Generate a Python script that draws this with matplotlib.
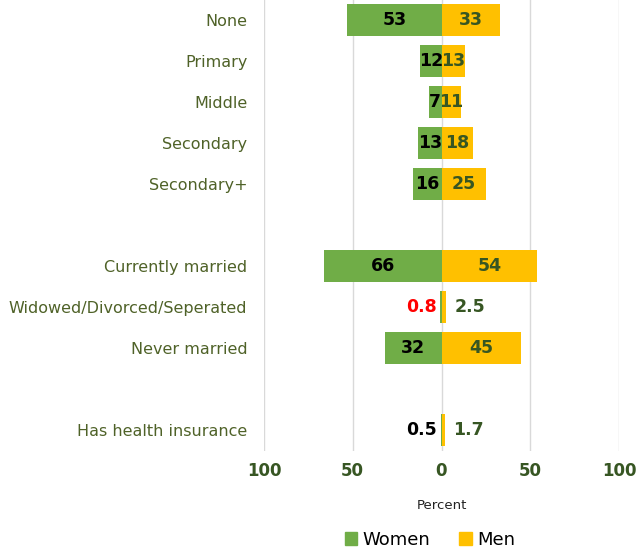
import matplotlib
matplotlib.use("Agg")
import matplotlib.pyplot as plt
import numpy as np
from matplotlib.patches import Patch

# categories, top to bottom ('' = gap row)
categories = ['None', 'Primary', 'Middle', 'Secondary', 'Secondary+', '',
              'Currently married', 'Widowed/Divorced/Seperated', 'Never married', '',
              'Has health insurance']
women = [53, 12, 7, 13, 16, None, 66, 0.8, 32, None, 0.5]
men = [33, 13, 11, 18, 25, None, 54, 2.5, 45, None, 1.7]
women_label_colors = ['black', 'black', 'black', 'black', 'black', None,
                      'black', 'red', 'black', None, 'black']
xticks = [-100, -50, 0, 50, 100]
xtick_labels = ['100', '50', '0', '50', '100']

green = '#70AD47'
gold = '#FFC000'
dark_green = '#375623'
label_green = '#4F6228'

plt.rcParams['font.family'] = ['DejaVu Sans']

fig = plt.figure(figsize=(6.37, 5.52), dpi=100)
ax = fig.add_axes([264 / 637, 1 - 450.5 / 552, (619 - 264) / 637, 451 / 552])

y = np.arange(len(categories))
for i, (w, m) in enumerate(zip(women, men)):
    if w is None:
        continue
    ax.barh(i, -w, height=0.78, color=green, zorder=2)
    ax.barh(i, m, height=0.78, color=gold, zorder=2)
    # women label: inside if the bar is wide enough, else just outside
    if w >= 5:
        ax.text(-w / 2, i, f'{w:g}', ha='center', va='center', fontsize=12.5,
                fontweight='bold', color=women_label_colors[i], zorder=3)
    else:
        ax.text(-w - 2, i, f'{w:g}', ha='right', va='center', fontsize=12.5,
                fontweight='bold', color=women_label_colors[i], zorder=3)
    # men label
    if m >= 5:
        ax.text(m / 2, i, f'{m:g}', ha='center', va='center', fontsize=12.5,
                fontweight='bold', color=dark_green, zorder=3)
    else:
        ax.text(m + 5, i, f'{m:g}', ha='left', va='center', fontsize=12.5,
                fontweight='bold', color=dark_green, zorder=3)

ax.set_xlim(-100, 100)
ax.set_ylim(len(categories) - 0.5, -0.5)
ax.set_yticks(y)
ax.set_yticklabels(categories, fontsize=11.5, color=label_green)
ax.set_xticks(xticks)
ax.set_xticklabels(xtick_labels, fontsize=12, fontweight='bold', color=dark_green)
ax.tick_params(axis='both', length=0)
ax.tick_params(axis='x', pad=8)
ax.tick_params(axis='y', pad=12)
ax.grid(axis='x', color='#D9D9D9', linewidth=1, zorder=0)
ax.set_axisbelow(True)
for s in ax.spines.values():
    s.set_visible(False)

ax.set_xlabel('Percent', fontsize=9.5, color='#222222', labelpad=14)

handles = [Patch(color=green, label='Women'), Patch(color=gold, label='Men')]
fig.legend(handles=handles, loc='center', bbox_to_anchor=(430 / 637, 1 - 540 / 552),
           ncol=2, frameon=False, fontsize=13, handlelength=0.7, handleheight=0.7,
           handletextpad=0.3, columnspacing=1.6)

fig.savefig('out.png', dpi=100)
